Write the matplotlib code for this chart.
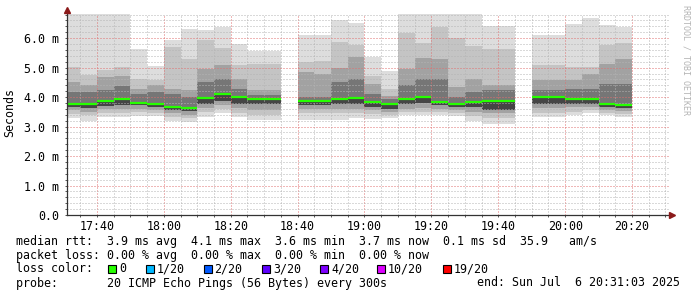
import numpy as np
import matplotlib
matplotlib.use('Agg')
import matplotlib.pyplot as plt
from matplotlib.patches import Rectangle

# 5-minute bins that have data (start time of each bin)
bin_start = ['17:30', '17:35', '17:40', '17:45', '17:50', '17:55', '18:00', '18:05',
             '18:10', '18:15', '18:20', '18:25', '18:30', '18:40', '18:45', '18:50',
             '18:55', '19:00', '19:05', '19:10', '19:15', '19:20', '19:25', '19:30',
             '19:35', '19:40', '19:50', '19:55', '20:00', '20:05', '20:10', '20:15']

# smoke edges in ms (outer -> inner)
top = [6.83, 6.83, 6.83, 6.83, 5.63, 5.06, 5.93, 6.31, 6.27, 6.38, 5.80, 5.57, 5.57, 6.10, 6.10, 6.63,
       6.50, 5.37, 4.88, 6.83, 6.83, 6.83, 6.83, 6.83, 6.41, 6.41, 6.10, 6.10, 6.47, 6.67, 6.44, 6.38]
up1 = [5.03, 4.75, 4.92, 5.03, 4.60, 4.58, 5.71, 5.31, 5.93, 5.65, 5.08, 5.12, 5.12, 5.20, 5.22, 5.88,
       5.76, 4.71, 4.26, 6.16, 5.82, 6.38, 6.02, 5.73, 5.62, 5.62, 5.08, 5.08, 5.03, 5.03, 5.76, 5.82]
up2 = [4.52, 4.41, 4.67, 4.71, 4.29, 4.41, 4.29, 4.24, 4.97, 5.08, 4.63, 4.24, 4.24, 4.86, 4.80, 5.00,
       5.37, 4.44, 4.05, 4.94, 5.34, 5.31, 4.35, 4.63, 4.41, 4.41, 4.58, 4.58, 4.58, 4.80, 5.14, 5.28]
up3 = [4.18, 4.18, 4.24, 4.37, 4.10, 4.18, 4.09, 4.01, 4.52, 4.63, 4.29, 4.07, 4.07, 4.01, 4.01, 4.52,
       4.63, 4.12, 3.93, 4.41, 4.63, 4.63, 4.02, 4.16, 4.24, 4.24, 4.24, 4.24, 4.29, 4.29, 4.46, 4.46]
median = [3.75, 3.76, 3.88, 3.92, 3.81, 3.75, 3.67, 3.63, 3.97, 4.09, 3.99, 3.95, 3.95, 3.86, 3.86, 3.93,
          3.98, 3.82, 3.75, 3.92, 3.99, 3.84, 3.77, 3.84, 3.86, 3.86, 4.01, 4.01, 3.95, 3.92, 3.77, 3.72]
lo3 = [3.66, 3.62, 3.70, 3.72, 3.72, 3.65, 3.56, 3.52, 3.78, 3.88, 3.78, 3.75, 3.75, 3.72, 3.72, 3.76,
       3.76, 3.67, 3.60, 3.75, 3.80, 3.72, 3.65, 3.65, 3.55, 3.55, 3.78, 3.78, 3.78, 3.78, 3.65, 3.62]
lo2 = [3.55, 3.50, 3.58, 3.60, 3.60, 3.55, 3.45, 3.40, 3.62, 3.72, 3.62, 3.55, 3.55, 3.58, 3.58, 3.60,
       3.60, 3.55, 3.48, 3.60, 3.62, 3.60, 3.55, 3.50, 3.45, 3.45, 3.62, 3.62, 3.65, 3.65, 3.55, 3.52]
lo1 = [3.42, 3.38, 3.45, 3.47, 3.48, 3.45, 3.33, 3.28, 3.48, 3.58, 3.45, 3.39, 3.39, 3.45, 3.45, 3.45,
       3.45, 3.42, 3.38, 3.48, 3.50, 3.50, 3.45, 3.35, 3.30, 3.30, 3.45, 3.45, 3.50, 3.55, 3.45, 3.42]
bottom = [3.28, 3.20, 3.31, 3.33, 3.35, 3.35, 3.20, 3.16, 3.33, 3.45, 3.31, 3.24, 3.24, 3.22, 3.22, 3.22,
          3.28, 3.25, 3.28, 3.39, 3.39, 3.39, 3.36, 3.20, 3.08, 3.08, 3.31, 3.31, 3.39, 3.47, 3.39, 3.33]

tick_times = ['17:40', '18:00', '18:20', '18:40', '19:00', '19:20', '19:40', '20:00', '20:20']
loss_labels = ['0', '1/20', '2/20', '3/20', '4/20', '10/20', '19/20']
loss_colors = ['#26ff00', '#00b8ff', '#0059ff', '#5e00ff', '#7e00ff', '#dd00ff', '#ff0000']


def to_min(s):
    h, m = s.split(':')
    return (int(h) - 17) * 60 + int(m)


x = np.array([to_min(s) for s in bin_start], dtype=float)
W, H = 697, 297
mono = 'DejaVu Sans Mono'

fig = plt.figure(figsize=(W / 100, H / 100), dpi=100)
fig.patch.set_facecolor('white')
ax = fig.add_axes([67 / W, (H - 215) / H, (669 - 67) / W, (215 - 14) / H])
ax.set_xlim(31.05, 211.05)
ax.set_ylim(0, 6.82)

# smoke bands, outer to inner
bands = [(bottom, top, '#dddddd'), (lo1, up1, '#c4c4c4'), (lo2, up2, '#a2a2a2'),
         (lo3, up3, '#767676'), (lo3, median, '#454545')]
for lo, hi, c in bands:
    lo = np.array(lo)
    hi = np.array(hi)
    ax.bar(x, hi - lo, bottom=lo, width=5, align='edge', color=c, linewidth=0, zorder=1)

ax.hlines(median, x, x + 5, color='#26ff00', linewidth=1.6, zorder=3)

# grid
ax.set_xticks([to_min(t) for t in tick_times])
ax.set_xticklabels(tick_times)
ax.set_xticks(np.arange(35, 211, 5), minor=True)
ax.set_yticks(np.arange(0, 7, 1.0))
ax.set_yticklabels(['0.0'] + ['%.1f m' % v for v in range(1, 7)])
ax.set_yticks(np.arange(0, 6.9, 0.2), minor=True)
ax.grid(which='minor', color='#b4b4b4', linestyle=(0, (1, 2)), linewidth=0.72,
        snap=True, zorder=2)
ax.grid(which='major', color='#e07070', linestyle=(0, (1, 2)), linewidth=0.72,
        snap=True, zorder=2)
ax.set_axisbelow(False)

for s in ['top', 'right']:
    ax.spines[s].set_visible(False)
for s in ['left', 'bottom']:
    ax.spines[s].set_color('#333333')
    ax.spines[s].set_linewidth(0.9)
    ax.spines[s].set_zorder(4)
ax.spines['left'].set_bounds(0, 6.92)
ax.tick_params(which='both', direction='out', length=1.5, width=0.7, color='#555555')
ax.tick_params(axis='y', pad=4, labelsize=8.4)
ax.tick_params(axis='x', pad=2, labelsize=8.4)
for lab in ax.get_xticklabels() + ax.get_yticklabels():
    lab.set_family(mono)

# axis arrows
ax.plot([0], [1 + 4 / 201], marker='^', color='#8b1a1a', markersize=4.5, clip_on=False,
        transform=ax.transAxes, zorder=5)
ax.plot([1 + 3 / 602], [0], marker='>', color='#8b1a1a', markersize=4.5, clip_on=False,
        transform=ax.transAxes, zorder=5)

fig.text(10 / W, 1 - 113 / H, 'Seconds', rotation=90, ha='center', va='center',
         family=mono, fontsize=8.4)
fig.text(686 / W, 1 - 60 / H, 'RRDTOOL / TOBI OETIKER', rotation=270, ha='center', va='center',
         family=mono, fontsize=6, color='#b4b4b4')


# legend lines
def line(txt, y, xpos=16, ha='left'):
    fig.text(xpos / W, 1 - y / H, txt, ha=ha, va='center', family=mono, fontsize=8.4)


line('median rtt:  3.9 ms avg  4.1 ms max  3.6 ms min  3.7 ms now  0.1 ms sd  35.9   am/s', 241)
line('packet loss: 0.00 % avg  0.00 % max  0.00 % min  0.00 % now', 255)
line('loss color:', 269)
line('probe:       20 ICMP Echo Pings (56 Bytes) every 300s', 283)
line('end: Sun Jul  6 20:31:03 2025', 283, xpos=680, ha='right')

box_x = [108, 146, 203.5, 262, 320, 377, 442.5]
for bx, lab, c in zip(box_x, loss_labels, loss_colors):
    fig.add_artist(Rectangle((bx / W, 1 - 273 / H), 8 / W, 8 / H, transform=fig.transFigure,
                             facecolor=c, edgecolor='black', linewidth=0.8))
    line(lab, 269, xpos=bx + 11)

fig.savefig('out.png', dpi=100, facecolor='white')
